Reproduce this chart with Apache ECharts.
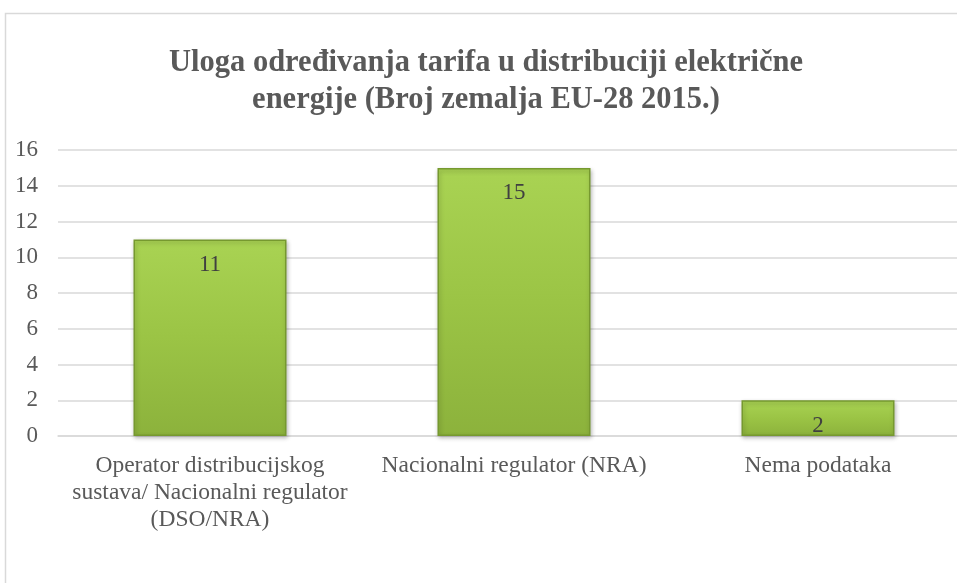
<!DOCTYPE html>
<html>
<head>
<meta charset="utf-8">
<script src="https://cdn.jsdelivr.net/npm/echarts@6/dist/echarts.min.js"></script>
<style>
  html, body { margin: 0; padding: 0; background: #fff; }
  #chart { width: 957px; height: 583px; }
</style>
</head>
<body>
<div id="chart"></div>
<script>
var titleText = 'Uloga određivanja tarifa u distribuciji električne\nenergije (Broj zemalja EU-28 2015.)';
var categories = ['Operator distribucijskog\nsustava/ Nacionalni regulator\n(DSO/NRA)', 'Nacionalni regulator (NRA)', 'Nema podataka'];
var values = [11, 15, 2];

var serif = '"Liberation Serif", "DejaVu Serif", serif';
var chart = echarts.init(document.getElementById('chart'));
var option = {
  backgroundColor: '#ffffff',
  animation: false,
  graphic: [
    {
      type: 'rect',
      shape: { x: 5.5, y: 13.5, width: 1000, height: 700 },
      style: { fill: 'none', stroke: '#d9d9d9', lineWidth: 1.5 },
      silent: true
    }
  ],
  title: {
    text: titleText,
    left: 481,
    textAlign: 'center',
    top: 40,
    textStyle: {
      fontFamily: serif,
      fontWeight: 'bold',
      fontSize: 30.5,
      lineHeight: 37,
      color: '#595959'
    }
  },
  grid: {
    left: 58,
    top: 150,
    width: 912,
    bottom: 147,
    outerBoundsMode: 'none'
  },
  xAxis: {
    type: 'category',
    data: categories,
    axisLine: { lineStyle: { color: '#d9d9d9', width: 1.5 } },
    axisTick: { show: false },
    axisLabel: {
      interval: 0,
      hideOverlap: false,
      fontFamily: serif,
      fontSize: 23.5,
      lineHeight: 27,
      color: '#595959',
      margin: 16
    }
  },
  yAxis: {
    type: 'value',
    min: 0,
    max: 16,
    interval: 2,
    axisLine: { show: false },
    axisTick: { show: false },
    splitLine: { lineStyle: { color: '#d9d9d9', width: 1.5 } },
    axisLabel: {
      fontFamily: serif,
      fontSize: 23,
      color: '#595959',
      margin: 20
    }
  },
  series: [
    {
      type: 'bar',
      data: values,
      barWidth: 153,
      itemStyle: {
        color: new echarts.graphic.LinearGradient(0, 0, 0, 1, [
          { offset: 0, color: '#a9d353' },
          { offset: 0.5, color: '#9bc445' },
          { offset: 1, color: '#8cb23c' }
        ]),
        borderColor: '#76992f',
        borderWidth: 1.5,
        shadowColor: 'rgba(0,0,0,0.25)',
        shadowBlur: 4,
        shadowOffsetX: 1,
        shadowOffsetY: 2
      },
      label: {
        show: true,
        position: 'insideTop',
        distance: 14,
        fontFamily: serif,
        fontSize: 23,
        color: '#404040'
      }
    }
  ]
};
chart.setOption(option);
</script>
</body>
</html>
